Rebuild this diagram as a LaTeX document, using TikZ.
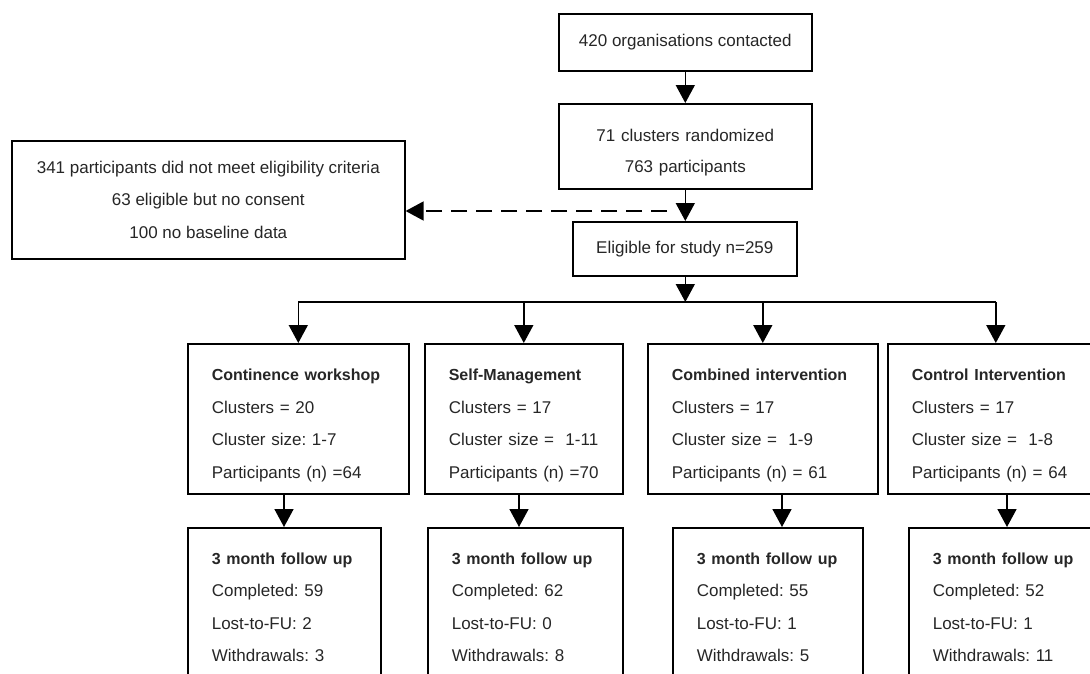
\documentclass[tikz,border=0pt]{standalone}
\usepackage{fontspec}
\setmainfont{Liberation Sans}
\usetikzlibrary{arrows.meta}

\tikzstyle{box} = [draw, line width=1.6pt, inner sep=0pt, anchor=north west, align=center,
    text=black!85, font=\fontsize{17}{32.5}\selectfont\frenchspacing]
\tikzstyle{armbox} = [box, align=left, inner xsep=24pt]
\tikzstyle{lowered} = [execute at begin node={\rule{0pt}{25pt}}]
\tikzstyle{arr} = [-{Triangle[width=19pt,length=18pt]}]
\newcommand{\armtitle}[1]{\mbox{\fontsize{16}{32.5}\selectfont\bfseries #1}}

\begin{document}
\begin{tikzpicture}[x=1pt,y=-1pt,line width=1.6pt]
    \useasboundingbox (0,0) rectangle (1090,673);
    \clip (0,0) rectangle (1090,673);

    % Recruitment
    \node[box, minimum width=253pt, minimum height=57pt] (contact) at (558,13) {420 organisations contacted};
    \node[box, lowered, text width=253pt, minimum height=85pt] (random) at (558,103) {71 clusters randomized\\[-1pt]763 participants};
    \node[box, minimum width=224pt, minimum height=54pt] (eligible) at (572,221) {Eligible for study n=259};
    \node[box, minimum width=393pt, minimum height=118pt] (excluded) at (11,140)
        {341 participants did not meet eligibility criteria\\63 eligible but no consent\\100 no baseline data};

    % Study arms
    \node[armbox, lowered, text width=173pt, minimum height=150pt] (arm1) at (187,343)
        {\armtitle{Continence workshop}\\Clusters = 20\\Cluster size: 1-7\\Participants (n) =64};
    \node[armbox, lowered, text width=150pt, minimum height=150pt] (arm2) at (424,343)
        {\armtitle{Self-Management}\\Clusters = 17\\Cluster size =~ 1-11\\Participants (n) =70};
    \node[armbox, lowered, text width=182pt, minimum height=150pt] (arm3) at (647,343)
        {\armtitle{Combined intervention}\\Clusters = 17\\Cluster size =~ 1-9\\Participants (n) = 61};
    \node[armbox, lowered, text width=168pt, minimum height=150pt] (arm4) at (887,343)
        {\armtitle{Control Intervention}\\Clusters = 17\\Cluster size =~ 1-8\\Participants (n) = 64};

    % Follow up
    \node[armbox, text width=145pt, minimum height=159pt] (fu1) at (187,527)
        {\armtitle{3 month follow up}\\Completed: 59\\Lost-to-FU: 2\\Withdrawals: 3};
    \node[armbox, text width=147pt, minimum height=159pt] (fu2) at (427,527)
        {\armtitle{3 month follow up}\\Completed: 62\\Lost-to-FU: 0\\Withdrawals: 8};
    \node[armbox, text width=142pt, minimum height=159pt] (fu3) at (672,527)
        {\armtitle{3 month follow up}\\Completed: 55\\Lost-to-FU: 1\\Withdrawals: 5};
    \node[armbox, text width=152pt, minimum height=159pt] (fu4) at (908,527)
        {\armtitle{3 month follow up}\\Completed: 52\\Lost-to-FU: 1\\Withdrawals: 11};

    % Connectors
    \coordinate (dashstart) at (667,211);
    \coordinate (split) at (683,302);
    \draw[arr] (contact) -- (random);
    \draw[arr] (random.south) -- (random.south |- eligible.north);
    \draw[arr, dash pattern=on 16pt off 9pt] (dashstart) -- (dashstart -| excluded.east);
    \draw[arr] (eligible.south -| random.south) -- (random.south |- split);
    \draw (arm1.north |- split) -- (arm4.north |- split);
    \foreach \a in {arm1,arm2,arm3,arm4}
        \draw[arr] (\a.north |- split) -- (\a.north);
    \foreach \a/\f/\d in {arm1/fu1/97, arm2/fu2/95, arm3/fu3/135, arm4/fu4/120}
        \draw[arr] ([xshift=\d pt]\a.south west) -- ([xshift=\d pt]\a.south west |- \f.north);
\end{tikzpicture}
\end{document}
